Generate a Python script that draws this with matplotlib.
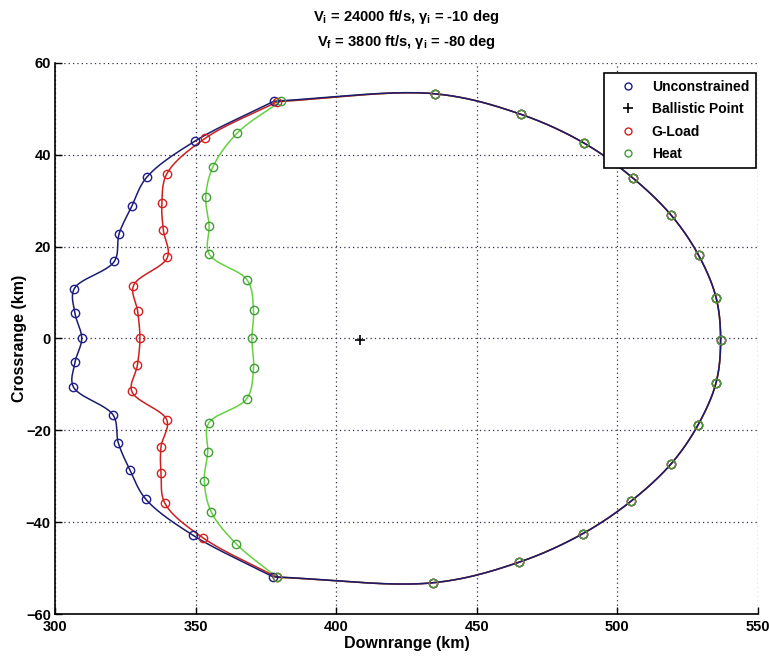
import numpy as np
import matplotlib
matplotlib.use("Agg")
import matplotlib.pyplot as plt
from matplotlib.lines import Line2D

plt.rcParams['font.family'] = ['Liberation Sans', 'DejaVu Sans']
plt.rcParams['mathtext.fontset'] = 'custom'
plt.rcParams['mathtext.rm'] = 'Liberation Sans:bold'
plt.rcParams['mathtext.it'] = 'Liberation Sans:bold'
plt.rcParams['mathtext.bf'] = 'Liberation Sans:bold'

# Shared far (downrange) edge of the footprint, bottom to top
far_x = [434.4, 465.1, 487.7, 504.9, 519.1, 528.7, 535.1, 536.7,
         535.1, 528.9, 519.2, 505.4, 488.3, 465.8, 435.0]
far_y = [-53.2, -48.7, -42.5, -35.4, -27.3, -18.8, -9.6, -0.3,
         8.9, 18.1, 26.8, 35.0, 42.5, 48.8, 53.3]

# Near (uprange) edges, top junction to bottom junction
unc_x = [377.9, 349.8, 332.6, 327.3, 322.8, 321.1, 306.8, 307.1, 309.5,
         307.1, 306.5, 320.7, 322.5, 326.7, 332.3, 349.2, 377.5]
unc_y = [51.7, 43.0, 35.1, 28.8, 22.8, 16.8, 10.8, 5.5, 0.0,
         -5.2, -10.5, -16.7, -22.7, -28.7, -35.0, -42.9, -51.9]

gload_x = [379.1, 353.4, 339.8, 338.0, 338.5, 340.0, 327.9, 329.4, 330.2,
           329.3, 327.3, 339.8, 337.7, 337.7, 339.1, 352.6, 378.9]
gload_y = [51.6, 43.6, 35.9, 29.5, 23.7, 17.7, 11.5, 5.9, 0.0,
           -5.8, -11.5, -17.8, -23.6, -29.4, -35.9, -43.4, -52.0]

heat_x = [380.3, 364.9, 356.1, 353.6, 354.8, 354.8, 368.4, 370.6, 370.0,
          370.6, 368.2, 354.6, 354.3, 353.1, 355.5, 364.4, 378.9]
heat_y = [51.7, 44.8, 37.3, 30.8, 24.6, 18.4, 12.7, 6.2, 0.0,
          -6.4, -13.1, -18.5, -24.8, -31.0, -37.7, -44.7, -52.0]

ballistic_x = [408.3]
ballistic_y = [-0.3]

legend_labels = ['Unconstrained', 'Ballistic Point', 'G-Load', 'Heat']

SX, SY = 2.81, 4.58  # screen pixels per km, used to parametrise the curves


def open_spline(x, y, n=24):
    """Centripetal Catmull-Rom curve through an open run of points."""
    P = np.column_stack([np.asarray(x, float) * SX, np.asarray(y, float) * SY])
    P = np.vstack([2 * P[0] - P[1], P, 2 * P[-1] - P[-2]])
    out = []
    for i in range(1, len(P) - 2):
        p0, p1, p2, p3 = P[i - 1], P[i], P[i + 1], P[i + 2]
        t0 = 0.0
        t1 = t0 + max(np.linalg.norm(p1 - p0), 1e-6) ** 0.5
        t2 = t1 + max(np.linalg.norm(p2 - p1), 1e-6) ** 0.5
        t3 = t2 + max(np.linalg.norm(p3 - p2), 1e-6) ** 0.5
        t = np.linspace(t1, t2, n, endpoint=False)[:, None]
        a1 = (t1 - t) / (t1 - t0) * p0 + (t - t0) / (t1 - t0) * p1
        a2 = (t2 - t) / (t2 - t1) * p1 + (t - t1) / (t2 - t1) * p2
        a3 = (t3 - t) / (t3 - t2) * p2 + (t - t2) / (t3 - t2) * p3
        b1 = (t2 - t) / (t2 - t0) * a1 + (t - t0) / (t2 - t0) * a2
        b2 = (t3 - t) / (t3 - t1) * a2 + (t - t1) / (t3 - t1) * a3
        out.append((t2 - t) / (t2 - t1) * b1 + (t - t1) / (t2 - t1) * b2)
    out.append(P[-2:-1])
    C = np.vstack(out)
    return C[:, 0] / SX, C[:, 1] / SY


fig = plt.figure(figsize=(7.69, 6.57), dpi=100)
ax = fig.add_axes([55 / 769, 1 - 614 / 657, (758 - 55) / 769, (614 - 63) / 657])

series = [
    (unc_x, unc_y, '#1c1c6e', '#1c1c8a'),
    (gload_x, gload_y, '#cc1f1f', '#d42020'),
    (heat_x, heat_y, '#66d040', '#3f9e35'),
]

# Lines: heat, g-load, then unconstrained on top
for (nx, ny, lc, mc), z in zip(series, [3, 2, 1]):
    # near branch, top junction down to bottom junction
    lx, ly = open_spline(nx, ny)
    ax.plot(lx, ly, '-', color=lc, lw=1.1, zorder=z + 1)
    # far branch, bottom junction round to top junction
    fx, fy = open_spline([nx[-1]] + far_x + [nx[0]], [ny[-1]] + far_y + [ny[0]])
    ax.plot(fx, fy, '-', color=lc, lw=1.1, zorder=z + 1)

# Markers: unconstrained, g-load, then heat on top
for i, (nx, ny, lc, mc) in enumerate(series):
    ax.plot(list(nx) + far_x, list(ny) + far_y, 'o', ms=6, mfc='none',
            mec=mc, mew=1.0, zorder=6 + i)

ax.plot(ballistic_x, ballistic_y, '+', color='black', ms=7, mew=1.2, zorder=10)

ax.set_xlim(300, 550)
ax.set_ylim(-60, 60)
ax.set_xticks([300, 350, 400, 450, 500, 550])
ax.set_yticks([-60, -40, -20, 0, 20, 40, 60])
ax.grid(True, linestyle=(0, (1, 2.5)), color='#30304a', lw=0.9)
for side in ['top', 'right']:
    ax.spines[side].set_visible(False)
for side in ['left', 'bottom']:
    ax.spines[side].set_linewidth(1.2)
ax.tick_params(direction='in', length=5, width=1.0, labelsize=10.5, pad=3)
ax.tick_params(axis='x', pad=4)
for lab in ax.get_xticklabels() + ax.get_yticklabels():
    lab.set_fontweight('bold')

ax.set_xlabel('Downrange (km)', fontsize=11.5, fontweight='bold', labelpad=2)
ax.set_ylabel('Crossrange (km)', fontsize=11.5, fontweight='bold')
ax.yaxis.set_label_coords((27 - 55) / 703, 0.5)

fig.text(0.528, 1 - 17 / 657,
         r'V$_\mathregular{i}$ = 24000 ft/s, $\gamma_\mathregular{i}$ = -10 deg',
         ha='center', va='center', fontsize=10.6, fontweight='bold')
fig.text(0.528, 1 - 42 / 657,
         r'V$_\mathregular{f}$ = 3800 ft/s, $\gamma_\mathregular{i}$ = -80 deg',
         ha='center', va='center', fontsize=10.6, fontweight='bold')

handles = [
    Line2D([], [], ls='none', marker='o', ms=5, mfc='none', mec='#1c1c8a', mew=1.0),
    Line2D([], [], ls='none', marker='+', ms=7, color='black', mew=1.2),
    Line2D([], [], ls='none', marker='o', ms=5, mfc='none', mec='#d42020', mew=1.0),
    Line2D([], [], ls='none', marker='o', ms=5, mfc='none', mec='#3f9e35', mew=1.0),
]
leg = ax.legend(handles, legend_labels, loc='upper right',
                bbox_to_anchor=((756 - 55) / 703, (614 - 73) / 551),
                frameon=True, fancybox=False, edgecolor='black',
                framealpha=1.0, handlelength=2.4, handletextpad=0.5,
                borderpad=0.5, labelspacing=0.6, borderaxespad=0.0,
                prop={'weight': 'bold', 'size': 10})
leg.get_frame().set_linewidth(1.2)
leg.set_zorder(20)

fig.savefig('out.png', dpi=100)
